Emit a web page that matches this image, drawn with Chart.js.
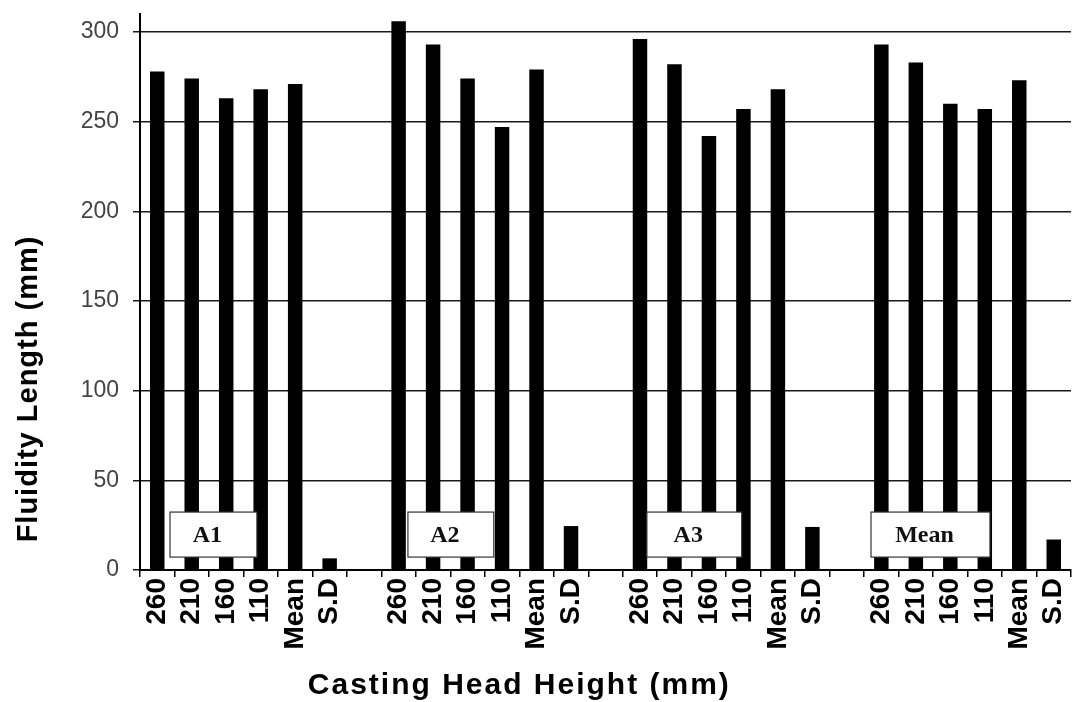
<!DOCTYPE html>
<html>
<head>
<meta charset="utf-8">
<title>Fluidity Length vs Casting Head Height</title>
<script src="https://cdn.jsdelivr.net/npm/chart.js@4.4.1/dist/chart.umd.min.js"></script>
<style>
    body { margin: 0; background: #ffffff; }
    #wrap { width: 1081px; height: 702px; }
</style>
</head>
<body>
<div id="wrap"><canvas id="fluidityChart" width="1081" height="702"></canvas></div>
<script>
// Chart data
const groups = ["A1", "A2", "A3", "Mean"];
const heights = ["260", "210", "160", "110", "Mean", "S.D"];
const a1Values = [278, 274, 263, 268, 271, 6.5];
const a2Values = [306, 293, 274, 247, 279, 24.5];
const a3Values = [296, 282, 242, 257, 268, 24];
const meanValues = [293, 283, 260, 257, 273, 17];
const yTicks = [0, 50, 100, 150, 200, 250, 300];

const groupValues = [a1Values, a2Values, a3Values, meanValues];

// Build flat labels / data with an empty slot between groups
function buildSeries() {
    const labels = [];
    const data = [];
    groupValues.forEach((values, g) => {
        heights.forEach((h, i) => {
            labels.push(h);
            data.push(values[i]);
        });
        if (g < groupValues.length - 1) {
            labels.push("");
            data.push(null);
        }
    });
    return { labels, data };
}

// Boxed group names sitting over the bars (category index span)
const boxSpans = [[0.37, 2.89], [7.27, 9.76], [14.2, 16.95], [20.7, 24.15]];

const groupBoxes = {
    id: "groupBoxes",
    afterDatasetsDraw(chart) {
        const { ctx, scales } = chart;
        const x = scales.x;
        const y = scales.y;
        ctx.save();
        groups.forEach((name, i) => {
            const left = x.getPixelForValue(boxSpans[i][0]);
            const right = x.getPixelForValue(boxSpans[i][1]);
            const top = y.getPixelForValue(32.3);
            const bottom = y.getPixelForValue(7.2);
            ctx.fillStyle = "#ffffff";
            ctx.fillRect(left, top, right - left, bottom - top);
            ctx.strokeStyle = "#333333";
            ctx.lineWidth = 1.2;
            ctx.strokeRect(left, top, right - left, bottom - top);
            ctx.fillStyle = "#111111";
            ctx.font = "bold 24px 'Liberation Serif', 'DejaVu Serif', serif";
            ctx.textAlign = "center";
            ctx.textBaseline = "middle";
            ctx.fillText(name, (left + right) / 2 - 6, (top + bottom) / 2 + 1);
        });
        ctx.restore();
    },
};

// Axis titles placed where the figure has them
const axisTitles = {
    id: "axisTitles",
    afterDraw(chart) {
        const { ctx, scales } = chart;
        ctx.save();
        ctx.fillStyle = "#000000";
        ctx.textAlign = "center";
        ctx.textBaseline = "alphabetic";
        ctx.font = "bold 30px 'Liberation Sans', Arial, sans-serif";
        ctx.letterSpacing = "2px";
        ctx.fillText("Casting Head Height (mm)", scales.x.getPixelForValue(10.5), 694);

        ctx.translate(37, 389);
        ctx.rotate(-Math.PI / 2);
        ctx.font = "bold 29px 'Liberation Sans', Arial, sans-serif";
        ctx.letterSpacing = "1px";
        ctx.fillText("Fluidity Length (mm)", 0, 0);
        ctx.restore();
    },
};

function renderChart() {
    const series = buildSeries();
    const ctx = document.getElementById("fluidityChart").getContext("2d");
    new Chart(ctx, {
        type: "bar",
        data: {
            labels: series.labels,
            datasets: [
                {
                    label: "Fluidity Length",
                    data: series.data,
                    backgroundColor: "#000000",
                    borderWidth: 0,
                    barPercentage: 0.42,
                    categoryPercentage: 1.0,
                },
            ],
        },
        options: {
            responsive: false,
            animation: false,
            layout: { padding: { top: 14, right: 10, left: 0, bottom: 0 } },
            plugins: {
                legend: { display: false },
                tooltip: { enabled: false },
            },
            scales: {
                x: {
                    grid: {
                        display: true,
                        offset: true,
                        drawOnChartArea: false,
                        drawTicks: true,
                        tickLength: 7,
                        color: "#000000",
                        lineWidth: 1.5,
                    },
                    border: { display: true, color: "#000000", width: 2 },
                    ticks: {
                        autoSkip: false,
                        minRotation: 90,
                        maxRotation: 90,
                        padding: 1,
                        color: "#000000",
                        font: { family: "'Liberation Sans', Arial, sans-serif", size: 28, weight: "bold" },
                    },
                    afterFit(scale) {
                        scale.height = 132;
                        scale.paddingLeft = 0;
                        scale.paddingRight = 0;
                    },
                },
                y: {
                    min: 0,
                    max: 310,
                    afterBuildTicks(scale) {
                        scale.ticks = yTicks.map((v) => ({ value: v }));
                    },
                    grid: {
                        color: "#1a1a1a",
                        lineWidth: 1.5,
                        drawTicks: true,
                        tickLength: 7,
                    },
                    border: { display: true, color: "#000000", width: 2 },
                    ticks: {
                        padding: 14,
                        color: "#444444",
                        font: { family: "'Liberation Sans', Arial, sans-serif", size: 23 },
                    },
                    afterFit(scale) {
                        scale.width = 140;
                        scale.paddingTop = 0;
                        scale.paddingBottom = 0;
                    },
                },
            },
        },
        plugins: [groupBoxes, axisTitles],
    });
}

renderChart();
</script>
</body>
</html>
